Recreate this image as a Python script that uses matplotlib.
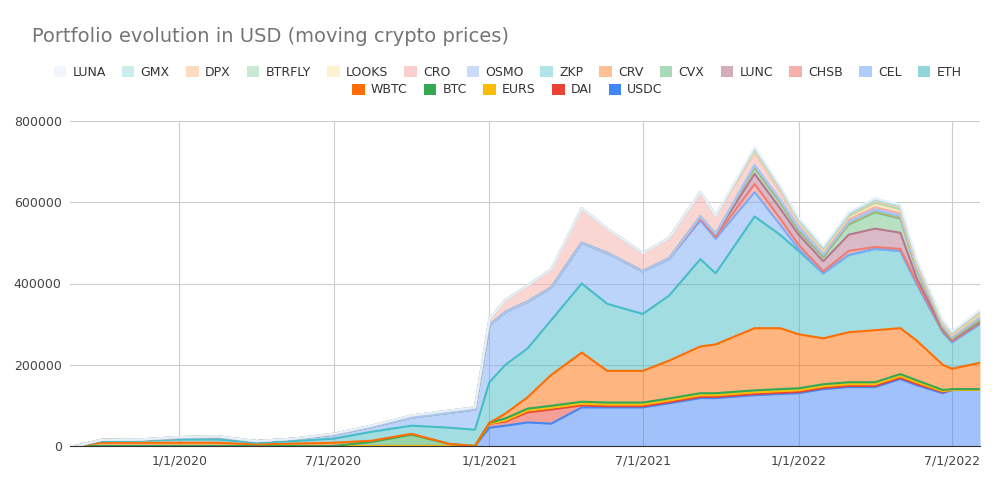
import numpy as np
import pandas as pd
import matplotlib.pyplot as plt
import matplotlib.dates as mdates
from matplotlib.patches import Patch

dates = pd.to_datetime([
    '2019-09-01', '2019-10-01', '2019-11-15', '2020-01-01', '2020-02-15', '2020-04-01',
    '2020-05-15', '2020-07-01', '2020-08-15', '2020-10-01', '2020-11-15', '2020-12-15',
    '2021-01-01', '2021-01-20', '2021-02-15', '2021-03-15', '2021-04-20', '2021-05-20',
    '2021-07-01', '2021-08-01', '2021-09-07', '2021-09-25', '2021-11-10', '2021-12-10',
    '2022-01-01', '2022-01-30', '2022-03-01', '2022-04-01', '2022-05-01', '2022-05-20',
    '2022-06-20', '2022-07-01', '2022-08-03'])

# values in thousands of USD, bottom layer first
usdc = [0, 0, 0, 0, 0, 0, 0, 0, 0, 0, 0, 0,
        45, 50, 58, 55, 95, 95, 95, 105, 118, 118, 125, 128,
        130, 140, 145, 145, 165, 150, 130, 138, 138]
dai = [0, 0, 0, 0, 0, 0, 0, 0, 0, 0, 0, 0,
       10, 10, 25, 35, 5, 3, 3, 3, 3, 3, 3, 3,
       3, 3, 3, 3, 3, 3, 3, 0, 0]
eurs = [0, 0, 0, 0, 0, 0, 0, 0, 0, 0, 0, 0,
        0, 3, 4, 4, 4, 4, 4, 4, 4, 4, 4, 4,
        4, 4, 4, 4, 4, 4, 2, 0, 0]
btc = [0, 0, 0, 0, 0, 0, 0, 0, 10, 28, 5, 0,
       2, 5, 5, 5, 5, 5, 5, 5, 5, 5, 5, 5,
       5, 5, 5, 5, 5, 5, 3, 2, 2]
wbtc = [0, 8, 8, 8, 8, 4, 6, 8, 3, 2, 0, 0,
        0, 12, 28, 76, 121, 78, 78, 93, 115, 120, 153, 150,
        133, 113, 123, 128, 113, 98, 62, 50, 65]
eth = [0, 4, 5, 8, 8, 4, 6, 10, 22, 20, 40, 40,
       100, 120, 120, 135, 170, 165, 140, 160, 215, 175, 275, 230,
       205, 160, 190, 200, 190, 140, 80, 65, 95]
cel = [0, 3, 3, 4, 6, 4, 6, 10, 12, 20, 37, 50,
       140, 130, 115, 80, 100, 125, 105, 90, 95, 85, 60, 25,
       5, 0, 0, 0, 0, 0, 0, 0, 0]
chsb = [0, 0, 0, 0, 0, 0, 0, 0, 0, 0, 0, 0,
        0, 0, 0, 0, 0, 0, 0, 2, 5, 5, 20, 15,
        10, 5, 10, 5, 5, 5, 3, 3, 3]
lunc = [0, 0, 0, 0, 0, 0, 0, 0, 0, 0, 0, 0,
        0, 0, 0, 0, 0, 0, 0, 0, 5, 5, 25, 25,
        25, 25, 40, 45, 40, 10, 3, 2, 2]
cvx = [0, 0, 0, 0, 0, 0, 0, 0, 0, 0, 0, 0,
       0, 0, 0, 0, 0, 0, 0, 0, 0, 2, 15, 15,
       10, 10, 25, 40, 35, 20, 5, 3, 4]
crv = [0, 0, 0, 0, 0, 0, 0, 0, 0, 0, 0, 0,
       0, 0, 0, 0, 0, 0, 0, 0, 0, 0, 3, 3,
       3, 3, 3, 3, 3, 2, 2, 2, 3]
zkp = [0, 0, 0, 0, 0, 0, 0, 0, 0, 0, 0, 0,
       0, 0, 0, 0, 0, 0, 0, 0, 0, 0, 2, 2,
       2, 2, 2, 2, 2, 2, 2, 2, 2]
osmo = [0, 0, 0, 0, 0, 0, 0, 0, 0, 0, 0, 0,
        0, 0, 0, 0, 0, 0, 0, 0, 0, 0, 2, 2,
        3, 3, 3, 3, 3, 2, 2, 2, 3]
cro = [0, 0, 0, 2, 2, 0, 0, 2, 3, 5, 5, 5,
       15, 30, 40, 45, 85, 60, 45, 50, 60, 45, 30, 20,
       10, 5, 5, 5, 5, 5, 3, 3, 4]
looks = [0] * 22 + [3, 3, 3, 3, 5, 7, 6, 4, 2, 2, 3]
btrfly = [0] * 22 + [3, 3, 3, 3, 3, 4, 4, 3, 2, 2, 3]
dpx = [0] * 22 + [2, 2, 2, 2, 3, 4, 4, 3, 2, 2, 3]
gmx = [0] * 22 + [2, 2, 2, 2, 2, 3, 3, 3, 2, 2, 3]
luna = [0] * 22 + [4, 4, 4, 4, 4, 4, 4, 3, 2, 2, 2]

names = ['USDC', 'DAI', 'EURS', 'BTC', 'WBTC', 'ETH', 'CEL', 'CHSB', 'LUNC', 'CVX',
         'CRV', 'ZKP', 'OSMO', 'CRO', 'LOOKS', 'BTRFLY', 'DPX', 'GMX', 'LUNA']
series = [usdc, dai, eurs, btc, wbtc, eth, cel, chsb, lunc, cvx,
          crv, zkp, osmo, cro, looks, btrfly, dpx, gmx, luna]
colors = ['#4285f4', '#ea4335', '#fbbc04', '#34a853', '#ff6d01', '#46bdc6', '#7baaf7',
          '#f07b72', '#b7778f', '#71c287', '#ff994d', '#7ed1d7', '#a9c5f9', '#f6aea9',
          '#fce8b2', '#a8dab5', '#ffc599', '#a6e1e4', '#e8f0fe']

fig = plt.figure(figsize=(10.05, 4.92), dpi=100)
ax = fig.add_axes([70 / 1005, 46 / 492, 910 / 1005, 325 / 492])

base = np.zeros(len(dates))
for name, vals, c in zip(names, series, colors):
    top = base + np.array(vals) * 1000
    ax.fill_between(dates, base, top, color=c, alpha=0.5, lw=0)
    ax.plot(dates, top, color=c, lw=1.5)
    base = top

ax.set_ylim(0, 800000)
ax.set_xlim(pd.Timestamp('2019-08-25'), pd.Timestamp('2022-08-03'))
ax.set_yticks(range(0, 800001, 200000))
ax.set_xticks(pd.to_datetime(['2020-01-01', '2020-07-01', '2021-01-01', '2021-07-01', '2022-01-01', '2022-07-01']))
ax.set_xticklabels(['1/1/2020', '7/1/2020', '1/1/2021', '7/1/2021', '1/1/2022', '7/1/2022'])
ax.grid(True, color='#cccccc', lw=0.8)
ax.set_axisbelow(True)
for s in ['top', 'right', 'left']:
    ax.spines[s].set_visible(False)
ax.spines['bottom'].set_color('#333333')
ax.tick_params(length=0, labelsize=9, colors='#444444', pad=6)

fig.text(32 / 1005, 1 - 36 / 492, 'Portfolio evolution in USD (moving crypto prices)',
         fontsize=14, color='#757575', va='center')

order = ['LUNA', 'GMX', 'DPX', 'BTRFLY', 'LOOKS', 'CRO', 'OSMO', 'ZKP', 'CRV', 'CVX',
         'LUNC', 'CHSB', 'CEL', 'ETH', 'WBTC', 'BTC', 'EURS', 'DAI', 'USDC']
cmap = dict(zip(names, colors))
def handles(keys, alpha):
    return [Patch(facecolor=cmap[k], alpha=alpha if k not in ['WBTC', 'BTC', 'EURS', 'DAI', 'USDC'] else 1, label=k)
            for k in keys]
kw = dict(frameon=False, fontsize=9, handlelength=1.0, handleheight=1.0,
          handletextpad=0.5, columnspacing=1.3, labelcolor='#333333')
fig.legend(handles=handles(order[:14], 0.6), loc='center', ncol=14,
           bbox_to_anchor=(0.505, 1 - 72 / 492), **kw)
fig.legend(handles=handles(order[14:], 1), loc='center', ncol=5,
           bbox_to_anchor=(0.505, 1 - 90 / 492), **kw)

fig.savefig('out.png', dpi=100)
